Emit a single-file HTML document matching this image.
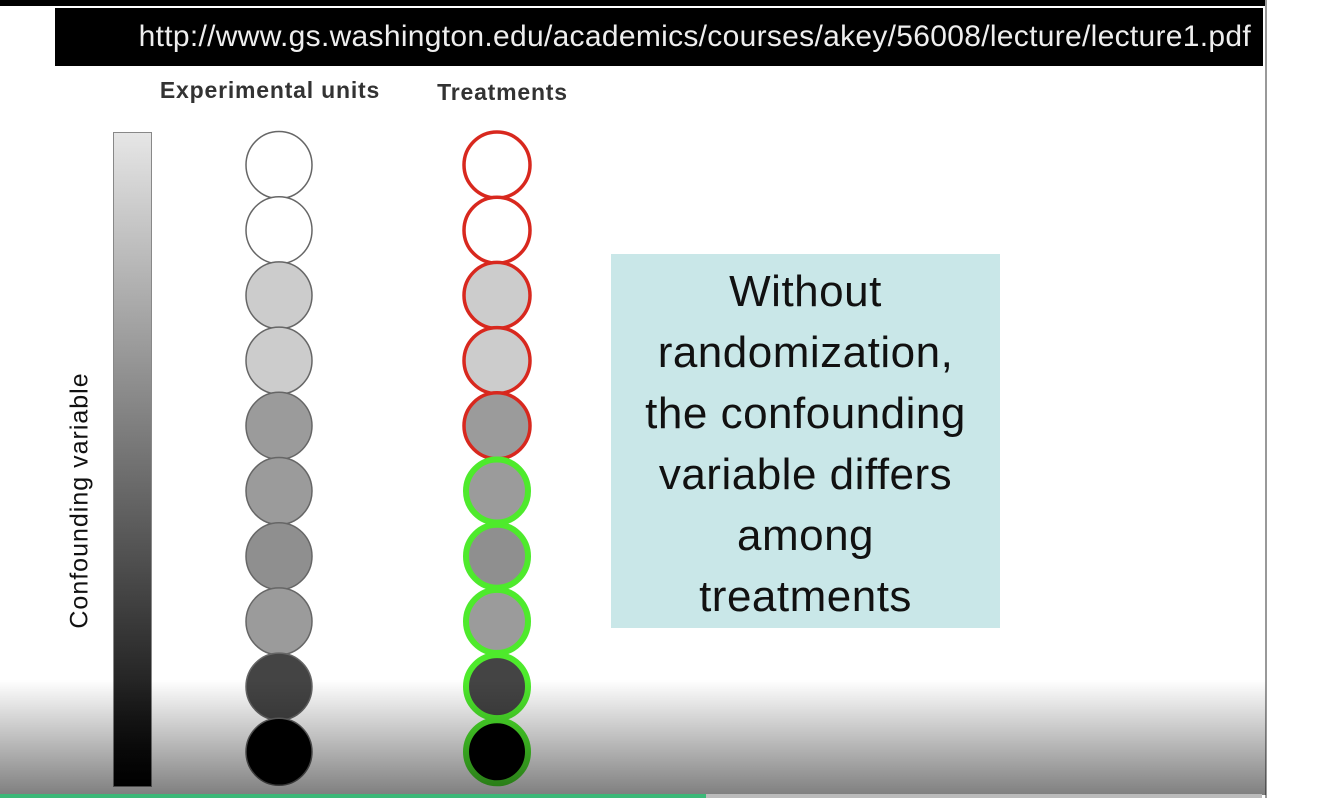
<!DOCTYPE html>
<html><head><meta charset="utf-8"><style>
body{margin:0;width:1324px;height:798px;overflow:hidden;background:#fff;position:relative;font-family:"Liberation Sans",sans-serif}
div{position:absolute}
</style></head><body>
<div style="left:0;top:0;width:1266px;height:6px;background:#000"></div>
<div style="left:55px;top:8px;width:1208px;height:58px;background:#000;color:#eee;font-size:30px;line-height:58px;text-align:right;padding-right:12px;box-sizing:border-box;white-space:nowrap;letter-spacing:0.3px">http://www.gs.washington.edu/academics/courses/akey/56008/lecture/lecture1.pdf</div>
<div style="left:1265px;top:0;width:2px;height:798px;background:#999"></div>
<div style="left:130px;top:77px;width:280px;font-size:23px;font-weight:bold;letter-spacing:0.8px;color:#333;text-align:center;white-space:nowrap">Experimental units</div>
<div style="left:400px;top:79px;width:205px;font-size:23px;font-weight:bold;letter-spacing:0.8px;color:#333;text-align:center">Treatments</div>
<div style="left:113px;top:132px;width:37px;height:653px;border:1px solid #888;background:linear-gradient(#e6e6e6,#000)"></div>
<div style="left:-80px;top:486px;width:320px;font-size:25px;letter-spacing:1px;color:#111;text-align:center;transform:rotate(-90deg);white-space:nowrap">Confounding variable</div>
<div style="left:611px;top:254px;width:389px;height:374px;background:#c9e7e8;color:#111;font-size:44px;line-height:61px;text-align:center;padding-top:7px;box-sizing:border-box;letter-spacing:0.5px;white-space:nowrap">Without<br>randomization,<br>the confounding<br>variable differs<br>among<br>treatments</div>
<svg width="1324" height="798" style="position:absolute;left:0;top:0" id="svg"></svg>
<div style="left:0;top:680px;width:1266px;height:115px;background:linear-gradient(rgba(0,0,0,0),rgba(0,0,0,0.5))"></div>
<div style="left:0;top:794px;width:1262px;height:4px;background:#bbb"></div>
<div style="left:0;top:794px;width:706px;height:4px;background:#3cb878"></div>
<script>
const shades=[255,255,204,204,155,155,143,155,68,0];
const groups=['red','red','red','red','red','green','green','green','green','green'];
const svg=document.getElementById('svg');
const NS='http://www.w3.org/2000/svg';
const y=i=>165+i*65.2;
shades.forEach((s,i)=>{
 const c=document.createElementNS(NS,'ellipse');
 c.setAttribute('cx',279);c.setAttribute('cy',y(i));c.setAttribute('rx',33);c.setAttribute('ry',33.5);
 c.setAttribute('fill',`rgb(${s},${s},${s})`);c.setAttribute('stroke','#666');c.setAttribute('stroke-width',1.5);
 
 
 svg.appendChild(c);
 const t=document.createElementNS(NS,'ellipse');
 const g=groups[i]==='green';
 t.setAttribute('cx',497);t.setAttribute('cy',y(i));t.setAttribute('rx',g?31:33);t.setAttribute('ry',g?31.5:33);
 t.setAttribute('fill',`rgb(${s},${s},${s})`);t.setAttribute('stroke',g?'#4eea2c':'#d8281e');t.setAttribute('stroke-width',g?6:3.5);
 
 
 svg.appendChild(t);
});
</script>
</body></html>
